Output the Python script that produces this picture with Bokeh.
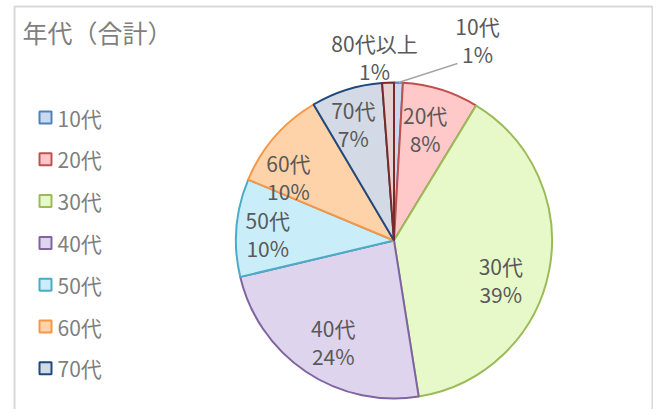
import numpy as np
from bokeh.plotting import figure
from bokeh.models import Range1d
from bokeh.core.properties import value
from bokeh.embed import file_html
from bokeh.resources import INLINE

# ---- data ----
categories = ["10代", "20代", "30代", "40代", "50代", "60代", "70代", "80代以上"]
shares = [0.9, 7.8, 38.8, 23.8, 10.0, 10.2, 7.3, 1.2]
legend_items = ["10代", "20代", "30代", "40代", "50代", "60代", "70代"]
title_text = "年代（合計）"

# ---- styles ----
fills = ["#C9DAF0", "#FFC9C9", "#E8F9C9", "#DED4EE", "#C9EEFA", "#FFD3AA", "#D3DAE5", "#E8D2D1"]
lines = ["#4F81BD", "#C0504D", "#9BBB59", "#8064A2", "#4BACC6", "#F79646", "#1F497D", "#7A2A28"]
FONT = "Noto Sans CJK JP"

W, H = 653, 409


def px(x):
    return x


def py(y):
    return H - y


p = figure(width=W, height=H, output_backend="svg", toolbar_location=None,
           x_range=Range1d(0, W), y_range=Range1d(0, H), min_border=0)
p.axis.visible = False
p.grid.visible = False
p.outline_line_color = None
p.background_fill_color = "white"

# frame
p.line([px(14), px(14), px(652), px(652)], [py(440), py(6), py(6), py(440)],
       line_color="#D9D9D9", line_width=2)

# title
p.text([px(22)], [py(31)], text=[title_text], text_font=value(FONT),
       text_font_size="25px", text_color="#7F7F7F", text_baseline="middle")

# pie
cx, cy, R = px(393.5), py(240), 158
vals = np.array(shares, dtype=float)
frac = vals / vals.sum()
cum = np.concatenate([[0], np.cumsum(frac)])
start = np.pi / 2 - cum[1:] * 2 * np.pi
end = np.pi / 2 - cum[:-1] * 2 * np.pi
p.wedge(x=[cx] * len(vals), y=[cy] * len(vals), radius=R,
        start_angle=start, end_angle=end, fill_color=fills,
        line_color=lines, line_width=2)

pct = [f"{int(round(f * 100))}%" for f in frac]
mid = (start + end) / 2

LBL = "21px"
# inside labels: clockwise nudge (deg) from mid-angle and radius fraction
nudge = [0, -1.6, 9, -3, -1.7, -10, -1.8, 0]
rfrac = [0, 0.73, 0.72, 0.75, 0.80, 0.78, 0.78, 0]
lx, ly, ln, lp = [], [], [], []
for i in range(1, 7):
    a = mid[i] - np.deg2rad(nudge[i])
    lx.append(cx + R * rfrac[i] * np.cos(a))
    ly.append(cy + R * rfrac[i] * np.sin(a))
    ln.append(categories[i])
    lp.append(pct[i])
ly = np.array(ly)
p.text(lx, ly + 14, text=ln, text_font=value(FONT), text_font_size=LBL,
       text_color="#595959", text_align="center", text_baseline="middle")
p.text(lx, ly - 14, text=lp, text_font=value(FONT), text_font_size=LBL,
       text_color="#595959", text_align="center", text_baseline="middle")

# outside labels
out_idx = [0, 7]
out_pos = [(px(477), py(39)), (px(374), py(56))]
for i, (ox, oy) in zip(out_idx, out_pos):
    p.text([ox], [oy + 14], text=[categories[i]], text_font=value(FONT), text_font_size=LBL,
           text_color="#595959", text_align="center", text_baseline="middle")
    p.text([ox], [oy - 14], text=[pct[i]], text_font=value(FONT), text_font_size=LBL,
           text_color="#595959", text_align="center", text_baseline="middle")

# leader line for 10代
sx, sy = cx + R * np.cos(mid[0]), cy + R * np.sin(mid[0])
p.line([sx, px(457)], [sy, py(63)], line_color="#A6A6A6", line_width=1.5)

# legend
n = len(legend_items)
ys = py(117) - np.arange(n) * 41.8
p.rect(x=[px(45)] * n, y=ys, width=12, height=12, fill_color=fills[:n],
       line_color=lines[:n], line_width=2)
p.text([px(57)] * n, ys, text=legend_items, text_font=value(FONT), text_font_size="21px",
       text_color="#7F7F7F", text_baseline="middle")

open("out.html", "w").write(file_html(p, INLINE))
